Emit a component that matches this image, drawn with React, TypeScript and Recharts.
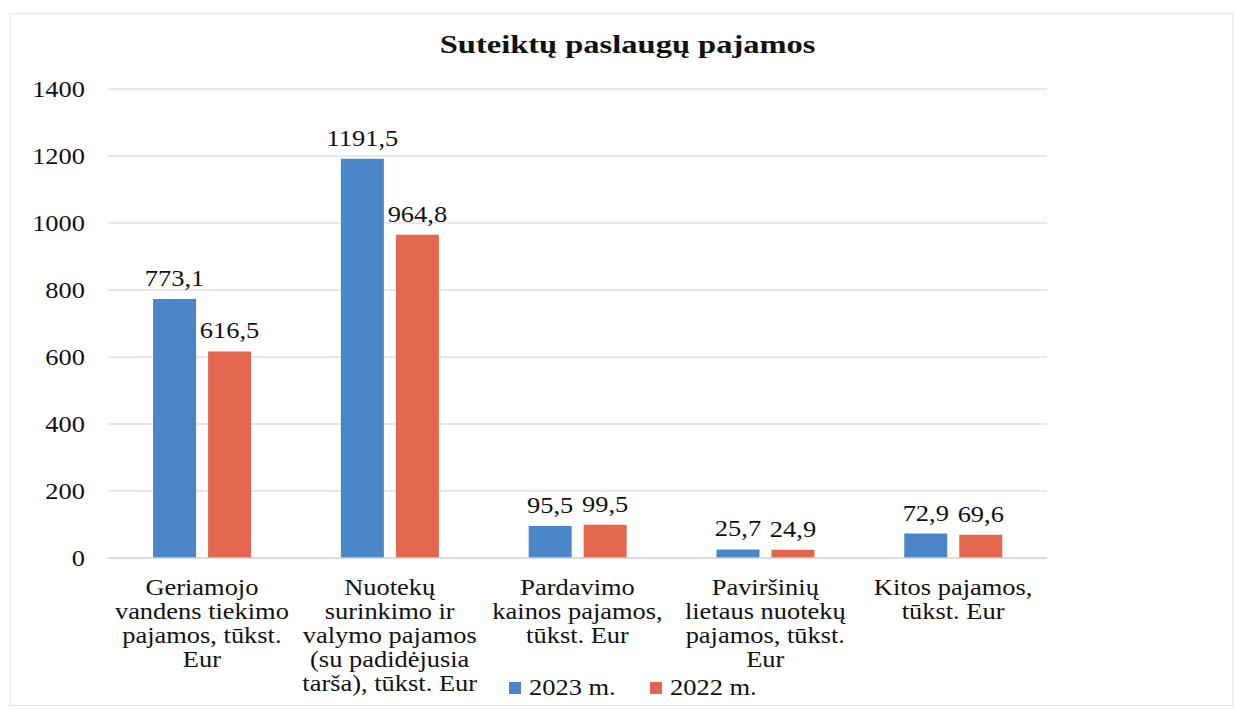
import React from "react";
import { BarChart, Bar, XAxis, YAxis, CartesianGrid, LabelList } from "recharts";

const categories = [
  "Geriamojo vandens tiekimo pajamos, tūkst. Eur",
  "Nuotekų surinkimo ir valymo pajamos (su padidėjusia tarša), tūkst. Eur",
  "Pardavimo kainos pajamos, tūkst. Eur",
  "Paviršinių lietaus nuotekų pajamos, tūkst. Eur",
  "Kitos pajamos, tūkst. Eur",
];
const categoryLines = [
  ["Geriamojo", "vandens tiekimo", "pajamos, tūkst.", "Eur"],
  ["Nuotekų", "surinkimo ir", "valymo pajamos", "(su padidėjusia", "tarša), tūkst. Eur"],
  ["Pardavimo", "kainos pajamos,", "tūkst. Eur"],
  ["Paviršinių", "lietaus nuotekų", "pajamos, tūkst.", "Eur"],
  ["Kitos pajamos,", "tūkst. Eur"],
];
const values2023 = [773.1, 1191.5, 95.5, 25.7, 72.9];
const values2022 = [616.5, 964.8, 99.5, 24.9, 69.6];
const yTicks = [0, 200, 400, 600, 800, 1000, 1200, 1400];
const seriesNames = ["2023 m.", "2022 m."];

const BLUE = "#4a86c8";
const RED = "#e3664e";
const FONT = "'Liberation Serif', 'Times New Roman', serif";
const STRETCH = 1.15;

const data = categories.map((name, i) => ({
  name,
  y2023: values2023[i],
  y2022: values2022[i],
}));

const fmt = (v: number) => v.toFixed(1).replace(".", ",");

function YTick(props: any) {
  const { x, y, payload } = props;
  return (
    <text
      transform={`translate(${x},${y}) scale(${STRETCH},1)`}
      textAnchor="end"
      dy={8}
      style={{ fontFamily: FONT, fontSize: 23 }}
      fill="#111"
    >
      {payload.value}
    </text>
  );
}

function XTick(props: any) {
  const { x, y, index } = props;
  const lines = categoryLines[index] || [];
  return (
    <g>
      {lines.map((line, i) => (
        <text
          key={i}
          transform={`translate(${x},${y + 37 + i * 24}) scale(${STRETCH},1)`}
          textAnchor="middle"
          style={{ fontFamily: FONT, fontSize: 23 }}
          fill="#111"
        >
          {line}
        </text>
      ))}
    </g>
  );
}

function ValueLabel(props: any) {
  const { x, y, width, value } = props;
  return (
    <text
      transform={`translate(${x + width / 2},${y - 13}) scale(${STRETCH},1)`}
      textAnchor="middle"
      style={{ fontFamily: FONT, fontSize: 23 }}
      fill="#111"
    >
      {fmt(value)}
    </text>
  );
}

function ChartLegend() {
  const colors = [BLUE, RED];
  return (
    <div
      style={{
        position: "absolute",
        left: 509,
        top: 675,
        display: "flex",
        alignItems: "center",
        fontFamily: FONT,
        fontSize: 23,
        color: "#111",
      }}
    >
      {seriesNames.map((n, i) => (
        <div key={n} style={{ display: "flex", alignItems: "center", width: 141 }}>
          <span style={{ width: 12, height: 12, background: colors[i], display: "inline-block", marginRight: 8 }} />
          <span style={{ display: "inline-block", transform: `scaleX(${STRETCH})`, transformOrigin: "left center" }}>{n}</span>
        </div>
      ))}
    </div>
  );
}

export default function App() {
  return (
    <div style={{ position: "absolute", left: 0, top: 0, width: 1235, height: 710, background: "#fff" }}>
      <div
        style={{
          position: "absolute",
          left: 10,
          top: 13,
          width: 1221,
          height: 691,
          border: "1px solid #e6e6e6",
        }}
      />
      <div
        style={{
          position: "absolute",
          left: 0,
          top: 30,
          width: 1255,
          textAlign: "center",
          fontFamily: FONT,
          fontWeight: "bold",
          fontSize: 26,
          color: "#111",
          transform: "scaleX(1.25)",
          transformOrigin: "627px 0",
        }}
      >
        Suteiktų paslaugų pajamos
      </div>
      <BarChart
        width={1235}
        height={710}
        data={data}
        margin={{ top: 89, right: 188, bottom: 0, left: 0 }}
        barCategoryGap="24%"
        barGap={12}
      >
        <CartesianGrid vertical={false} stroke="#e0e0e0" strokeWidth={1.5} />
        <XAxis
          dataKey="name"
          tick={<XTick />}
          tickLine={false}
          axisLine={{ stroke: "#d6d6d6", strokeWidth: 1.5 }}
          tickSize={0}
          tickMargin={0}
          interval={0}
          height={152}
        />
        <YAxis
          domain={[0, 1400]}
          ticks={yTicks}
          width={108}
          tick={<YTick />}
          tickLine={false}
          axisLine={false}
          tickSize={6}
          tickMargin={17}
          interval={0}
        />
        <Bar dataKey="y2023" name={seriesNames[0]} fill={BLUE} isAnimationActive={false}>
          <LabelList dataKey="y2023" content={<ValueLabel />} />
        </Bar>
        <Bar dataKey="y2022" name={seriesNames[1]} fill={RED} isAnimationActive={false}>
          <LabelList dataKey="y2022" content={<ValueLabel />} />
        </Bar>
      </BarChart>
      <ChartLegend />
    </div>
  );
}
